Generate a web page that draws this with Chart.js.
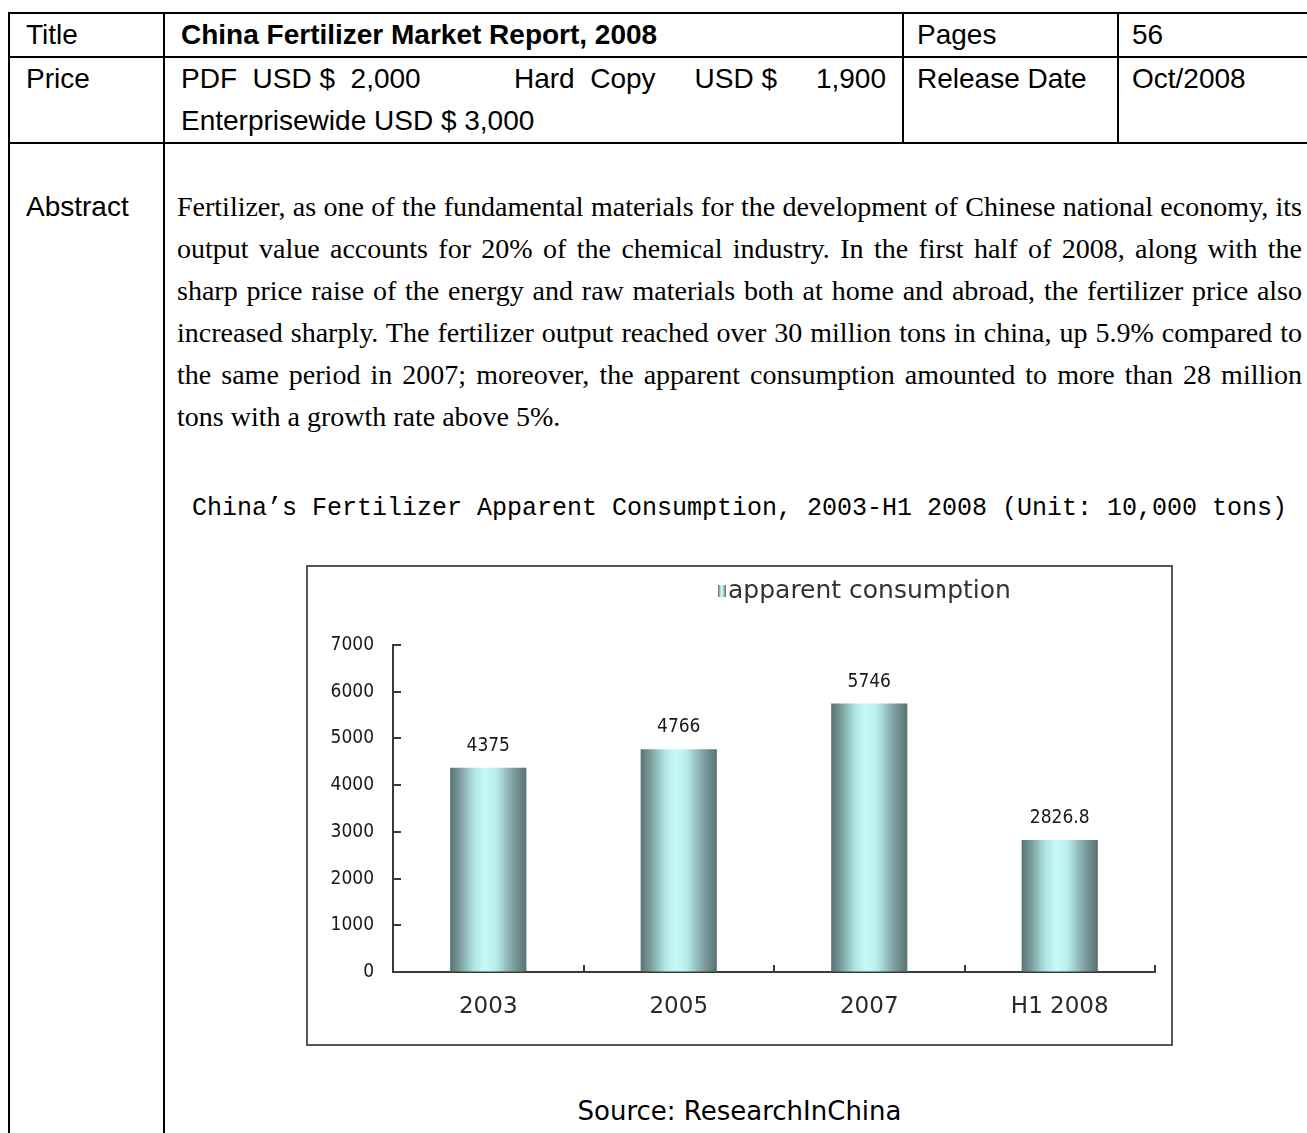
<!doctype html>
<html>

<head>
  <meta charset="utf-8">
  <title>China Fertilizer Market Report, 2008</title>
  <script src="https://cdn.jsdelivr.net/npm/chart.js@4/dist/chart.umd.min.js"></script>
  <style>
  html, body {
    margin: 0;
    overflow: hidden;
    background: #fff;
  }
  table {
    position: absolute;
    left: 8px;
    top: 12px;
    width: 1304px;
    border-collapse: collapse;
    table-layout: fixed;
    font-family: "Liberation Sans", Arial, sans-serif;
    font-size: 28px;
    color: #000;
  }
  td {
    border: 2px solid #000;
    padding: 0 14px 0 16px;
    vertical-align: top;
    line-height: 42px;
  }
  .abstract {
    margin: 0;
    font-family: "Liberation Serif", "Times New Roman", serif;
    font-size: 28px;
    line-height: 42px;
    text-align: justify;
  }
  .chart-title {
    margin-top: 50px;
    font-family: "Liberation Mono", monospace;
    font-size: 25px;
    line-height: 42px;
    text-align: center;
    white-space: nowrap;
  }
  #box {
    width: 863px;
    height: 477px;
    margin: 35px auto 0;
    border: 2px solid #555;
  }
  .source {
    margin-top: 44px;
    font-family: "DejaVu Sans", sans-serif;
    font-size: 26px;
    line-height: 42px;
    text-align: center;
  }
  </style>
</head>

<body>
  <table>
    <col style="width:155px">
    <col style="width:739px">
    <col style="width:215px">
    <col style="width:195px">
    <tr style="height:43px">
      <td>Title</td>
      <td><b>China Fertilizer Market Report, 2008</b></td>
      <td style="padding-left:13px">Pages</td>
      <td style="padding-left:13px">56</td>
    </tr>
    <tr style="height:85px">
      <td>Price</td>
      <td>
        <div style="white-space:pre">PDF  USD $  2,000            Hard  Copy     USD $     1,900</div>
        <div>Enterprisewide USD $ 3,000</div>
      </td>
      <td style="padding-left:13px">Release Date</td>
      <td style="padding-left:13px">Oct/2008</td>
    </tr>
    <tr>
      <td style="padding-top:42px">Abstract</td>
      <td colspan="3" style="padding:42px 10px 60px 12px">
        <p class="abstract">Fertilizer, as one of the fundamental materials for the development of Chinese national economy, its output value accounts for 20% of the chemical industry. In the first half of 2008, along with the sharp price raise of the energy and raw materials both at home and abroad, the fertilizer price also increased sharply. The fertilizer output reached over 30 million tons in china, up 5.9% compared to the same period in 2007; moreover, the apparent consumption amounted to more than 28 million tons with a growth rate above 5%.</p>
        <div class="chart-title">China’s Fertilizer Apparent Consumption, 2003-H1 2008 (Unit: 10,000 tons)</div>
        <div id="box"><canvas id="canvas" width="863" height="477"></canvas></div>
        <div class="source">Source: ResearchInChina</div>
      </td>
    </tr>
  </table>

  <script>
  // values
  var categories = ['2003', '2005', '2007', 'H1 2008'];
  var consumption = [4375, 4766, 5746, 2826.8];
  var seriesName = 'apparent consumption';
  var yMin = 0, yMax = 7000, yStep = 1000;

  var BAR_PCT = 0.4;
  var numFont = '"DejaVu Sans Condensed", "DejaVu Sans", sans-serif';

  function cylinder(ctx, x0, x1) {
    var g = ctx.createLinearGradient(x0, 0, x1, 0);
    g.addColorStop(0, '#577272');
    g.addColorStop(0.12, '#789a9a');
    g.addColorStop(0.32, '#b2e6e6');
    g.addColorStop(0.45, '#c6fafa');
    g.addColorStop(0.6, '#b9eeee');
    g.addColorStop(0.8, '#84a8a8');
    g.addColorStop(1, '#587272');
    return g;
  }

  function barFill(c) {
    var chart = c.chart;
    var x = chart.scales.x;
    if (!x || c.type !== 'data') return '#9cc';
    var half = x.width / categories.length * BAR_PCT / 2;
    var cx = x.getPixelForValue(c.dataIndex);
    if (!isFinite(cx) || !isFinite(half) || half <= 0) return '#9cc';
    return cylinder(chart.ctx, cx - half, cx + half);
  }

  // inward ticks, value labels and the legend
  var decor = {
    id: 'decor',
    afterDraw: function(chart) {
      var ctx = chart.ctx;
      var area = chart.chartArea;
      var xs = chart.scales.x, ys = chart.scales.y;
      ctx.save();
      ctx.strokeStyle = '#3a3a3a';
      ctx.lineWidth = 2;
      ctx.beginPath();
      ys.ticks.forEach(function(t) {
        var py = Math.round(ys.getPixelForValue(t.value));
        ctx.moveTo(area.left, py);
        ctx.lineTo(area.left + 8, py);
      });
      var catW = xs.width / categories.length;
      for (var i = 0; i <= categories.length; i++) {
        var px = Math.round(xs.left + catW * i);
        ctx.moveTo(px, area.bottom);
        ctx.lineTo(px, area.bottom - 7);
      }
      ctx.stroke();

      ctx.fillStyle = '#1a1a1a';
      ctx.font = '19px ' + numFont;
      ctx.textAlign = 'center';
      ctx.textBaseline = 'middle';
      chart.getDatasetMeta(0).data.forEach(function(bar, i) {
        ctx.fillText(String(consumption[i]), bar.x, bar.y - 22);
      });

      // legend
      var lx = 410, ly = 24;
      ctx.fillStyle = cylinder(ctx, lx, lx + 8);
      ctx.fillRect(lx, ly - 6, 8, 12);
      ctx.fillStyle = '#333';
      ctx.font = '25px "DejaVu Sans", sans-serif';
      ctx.textAlign = 'left';
      ctx.fillText(seriesName, lx + 10, ly);
      ctx.restore();
    }
  };

  window.onload = function() {
    var ctx = document.getElementById('canvas').getContext('2d');
    window.myBar = new Chart(ctx, {
      type: 'bar',
      data: {
        labels: categories,
        datasets: [{
          label: seriesName,
          data: consumption,
          backgroundColor: barFill,
          borderWidth: 0,
          categoryPercentage: 1,
          barPercentage: BAR_PCT
        }]
      },
      options: {
        responsive: false,
        animation: false,
        layout: {padding: {top: 78, right: 16, bottom: 0, left: 0}},
        plugins: {
          legend: {display: false},
          tooltip: {enabled: false}
        },
        scales: {
          x: {
            grid: {color: 'rgba(0,0,0,0)', drawTicks: false},
            border: {color: '#3a3a3a', width: 2},
            ticks: {
              padding: 21,
              color: '#2a2a2a',
              font: {family: '"DejaVu Sans", sans-serif', size: 23}
            },
            afterFit: function(s) { s.height = 72; }
          },
          y: {
            min: yMin,
            max: yMax,
            grid: {color: 'rgba(0,0,0,0)', drawTicks: false},
            border: {color: '#3a3a3a', width: 2},
            ticks: {
              stepSize: yStep,
              padding: 19,
              color: '#1a1a1a',
              font: {family: numFont, size: 19},
              callback: function(v) { return String(v); }
            },
            afterFit: function(s) { s.width = 85; }
          }
        }
      },
      plugins: [decor]
    });
  };
  </script>
</body>

</html>
